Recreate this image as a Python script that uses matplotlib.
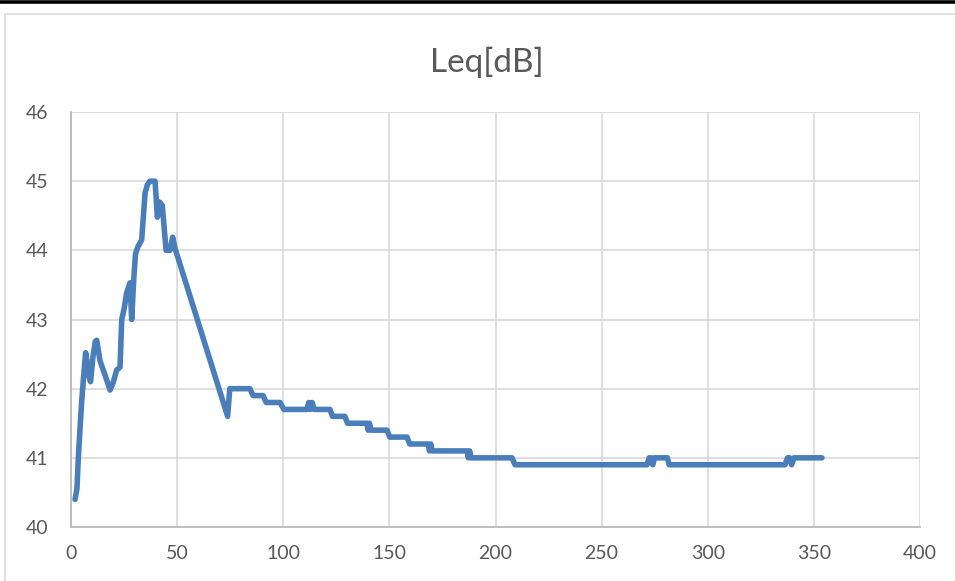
import matplotlib
matplotlib.use("Agg")
import matplotlib.pyplot as plt
from matplotlib.lines import Line2D
from matplotlib.patches import Rectangle

# Measured equivalent sound level over time
time_s = [1.9, 2.8, 3.4, 4.2, 5.0, 6.0, 6.9, 7.5, 8.3, 9.2, 10.3, 11.4, 12.1, 13.7,
          16.0, 18.4, 20.0, 21.5, 23.1, 23.9, 25.0, 26.2, 27.8, 28.6, 29.6, 30.4,
          31.5, 33.3, 34.9, 36.0, 37.2, 39.6, 40.7, 41.6, 43.0, 44.8, 46.6, 47.9,
          49.0, 73.8, 74.8, 84.3, 85.8, 90.5, 92.0, 98.5, 100.3, 111.2, 112.0,
          112.8, 113.6, 114.6, 122.0, 123.2, 129.0, 130.3, 139.4, 140.0, 140.6,
          141.4, 148.9, 150.2, 158.3, 159.6, 168.2, 168.9, 169.5, 170.2, 186.6,
          187.2, 187.8, 188.5, 207.8, 209.2, 271.4, 272.4, 273.4, 274.1, 274.9,
          281.0, 281.8, 336.4, 337.6, 338.6, 339.5, 340.6, 353.8]
leq_db = [40.4, 40.55, 40.97, 41.4, 41.8, 42.2, 42.52, 42.4, 42.2, 42.1, 42.45, 42.68,
          42.7, 42.4, 42.2, 41.98, 42.1, 42.27, 42.31, 43.0, 43.15, 43.38, 43.53,
          43.0, 43.6, 43.95, 44.05, 44.15, 44.83, 44.95, 45.0, 45.0, 44.48, 44.7,
          44.65, 44.0, 44.0, 44.19, 44.03, 41.6, 42.0, 42.0, 41.9, 41.9, 41.8,
          41.8, 41.7, 41.7, 41.8, 41.7, 41.8, 41.7, 41.7, 41.6, 41.6, 41.5, 41.5,
          41.4, 41.5, 41.4, 41.4, 41.3, 41.3, 41.2, 41.2, 41.1, 41.2, 41.1, 41.1,
          41.0, 41.1, 41.0, 41.0, 40.9, 40.9, 41.0, 41.0, 40.9, 41.0, 41.0, 40.9,
          40.9, 41.0, 41.0, 40.9, 41.0, 41.0]

x_ticks = [0, 50, 100, 150, 200, 250, 300, 350, 400]
y_ticks = [40, 41, 42, 43, 44, 45, 46]
title = "Leq[dB]"

W, H = 955, 581
fig = plt.figure(figsize=(W / 100, H / 100), dpi=100)
plt.rcParams["font.family"] = ["Lato", "DejaVu Sans"]

# Heavy rule along the top edge and the chart frame
fig.add_artist(Line2D([0, 1], [1 - 1.8 / H, 1 - 1.8 / H], color="black", lw=2.6,
                      transform=fig.transFigure))
fig.add_artist(Rectangle((4.5 / W, -0.1), 1.2, 1.1 - 13.5 / H, transform=fig.transFigure,
                         fill=False, edgecolor="#d9d9d9", lw=1.2))

ax = fig.add_axes([71 / W, (H - 527) / H, (920 - 71) / W, (527 - 112) / H])
ax.plot(time_s, leq_db, color="#4a7ebb", lw=4.0, solid_joinstyle="round",
        solid_capstyle="round", zorder=3)

ax.set_xlim(0, 400)
ax.set_ylim(40, 46)
ax.set_xticks(x_ticks)
ax.set_yticks(y_ticks)
ax.grid(True, color="#d9d9d9", lw=1.2, zorder=0)
ax.set_axisbelow(True)
for side in ("top", "right"):
    ax.spines[side].set_visible(False)
for side in ("left", "bottom"):
    ax.spines[side].set_color("#bfbfbf")
    ax.spines[side].set_linewidth(1.4)
ax.tick_params(axis="both", length=0, labelsize=14, labelcolor="#595959")
ax.tick_params(axis="x", pad=13)
ax.tick_params(axis="y", pad=16)

fig.text(487 / W, 1 - 62 / H, title, ha="center", va="center",
         fontsize=24, color="#595959")

fig.savefig("out.png", dpi=100)
